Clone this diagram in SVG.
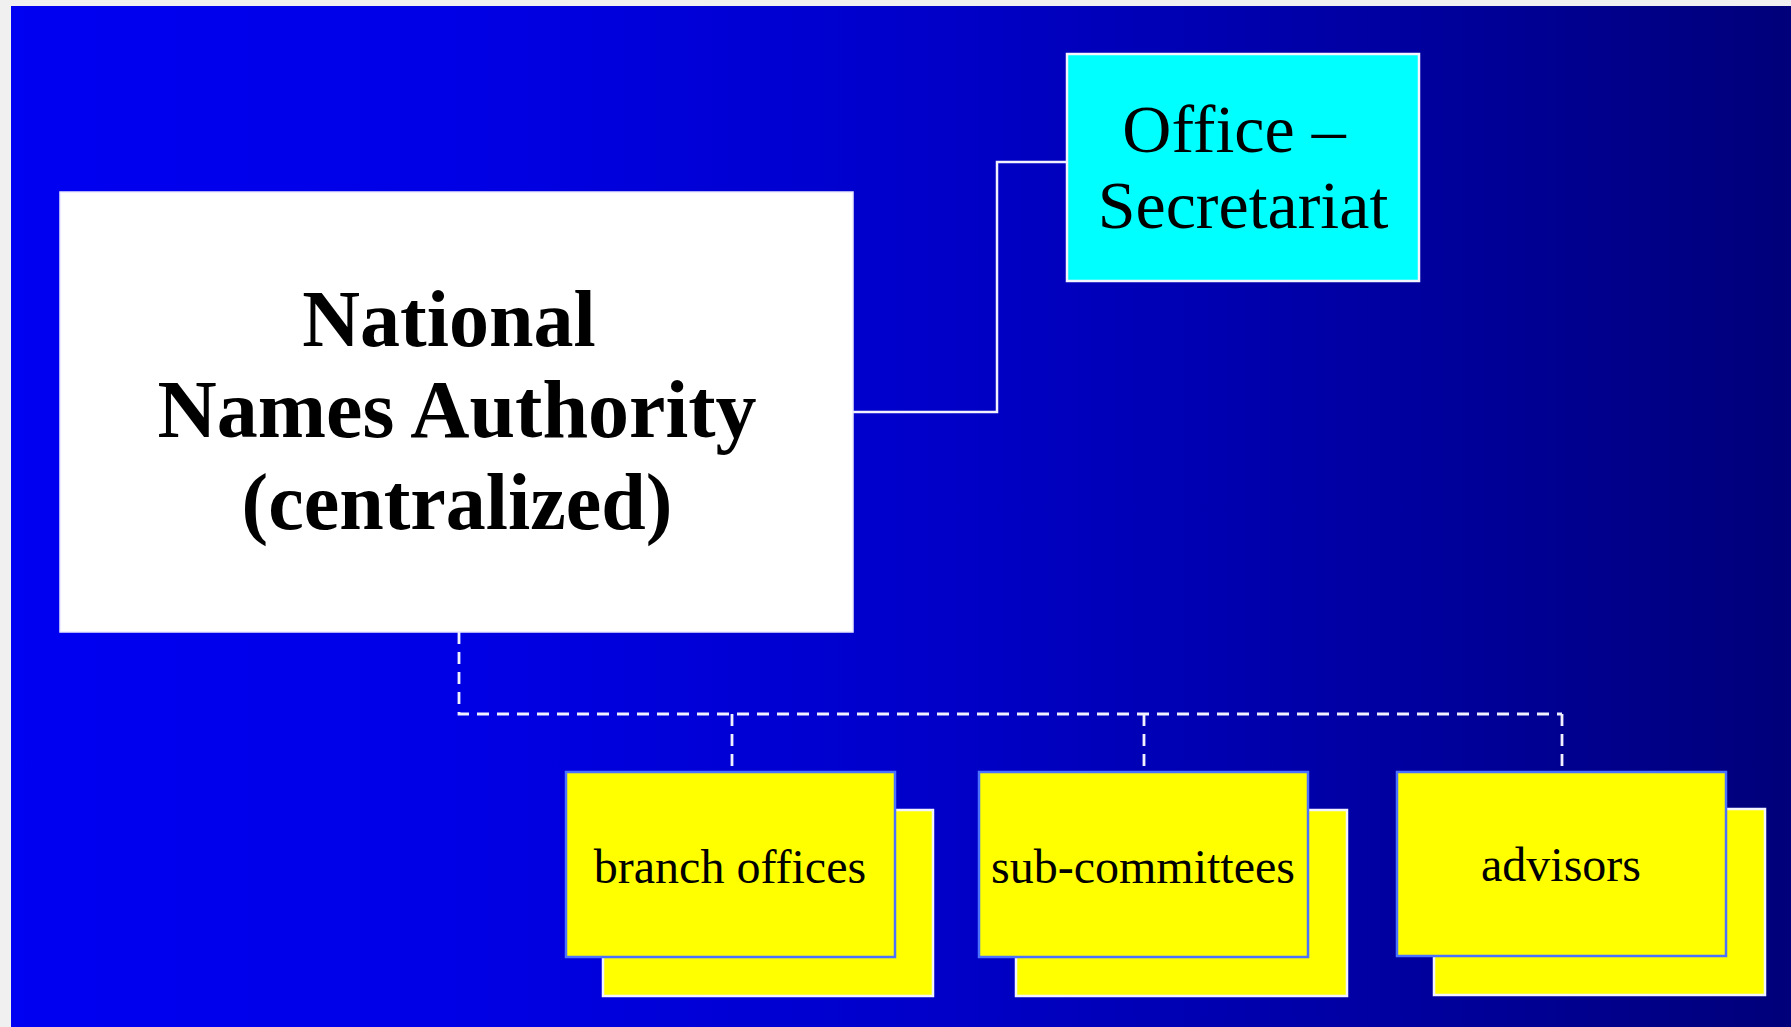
<svg xmlns="http://www.w3.org/2000/svg" width="1791" height="1027" viewBox="0 0 1791 1027">
  <defs>
    <linearGradient id="bg" gradientUnits="userSpaceOnUse" x1="0" y1="0" x2="1791" y2="0">
      <stop offset="0" stop-color="#0000F2"/>
      <stop offset="0.25" stop-color="#0000E6"/>
      <stop offset="0.53" stop-color="#0000C8"/>
      <stop offset="0.75" stop-color="#0000A5"/>
      <stop offset="1" stop-color="#00007A"/>
    </linearGradient>
    <style>
      .front { fill: #FFFF00; stroke: #4A72FF; stroke-width: 2.5; }
      .back { fill: #FFFF00; stroke: #F4F4FF; stroke-width: 2.5; }
      .lbl { font-family: "Liberation Serif", "Times New Roman", serif; fill: #000; text-anchor: middle; }
      .solid { fill: none; stroke: #F0F0FF; stroke-width: 2.5; }
      .dash { fill: none; stroke: #F0F0FF; stroke-width: 2.8; stroke-dasharray: 12 8; }
    </style>
  </defs>
  <rect x="0" y="0" width="1791" height="1027" fill="#F0F0F0"/>
  <rect x="11" y="6" width="1780" height="1021" fill="url(#bg)"/>

  <g id="connectors">
    <polyline class="solid" points="853,412 997,412 997,162 1067,162"/>
    <polyline class="dash" points="459,632 459,714 1562,714"/>
    <line class="dash" x1="732" y1="714" x2="732" y2="772"/>
    <line class="dash" x1="1144" y1="714" x2="1144" y2="772"/>
    <line class="dash" x1="1562" y1="714" x2="1562" y2="772"/>
  </g>

  <g id="national-names-authority">
    <rect x="60" y="192" width="793" height="440" fill="#FFFFFF" stroke="#E8E8FF" stroke-width="1.5"/>
    <text class="lbl" font-weight="bold" font-size="80" x="449" y="346">National</text>
    <text class="lbl" font-weight="bold" font-size="82" x="457" y="437">Names Authority</text>
    <text class="lbl" font-weight="bold" font-size="80" x="457" y="529">(centralized)</text>
  </g>

  <g id="office-secretariat">
    <rect x="1067" y="54" width="352" height="227" fill="#00FFFF" stroke="#F4F4FF" stroke-width="2.5"/>
    <text class="lbl" font-size="68" x="1234" y="152">Office –</text>
    <text class="lbl" font-size="68" x="1243" y="228">Secretariat</text>
  </g>

  <g id="branch-offices">
    <rect class="back" x="603" y="810" width="330" height="186"/>
    <rect class="front" x="566" y="772" width="329" height="185"/>
    <text class="lbl" font-size="48" x="730" y="883">branch offices</text>
  </g>

  <g id="sub-committees">
    <rect class="back" x="1016" y="810" width="331" height="186"/>
    <rect class="front" x="979" y="772" width="329" height="185"/>
    <text class="lbl" font-size="48" x="1143" y="883">sub-committees</text>
  </g>

  <g id="advisors">
    <rect class="back" x="1434" y="809" width="331" height="186"/>
    <rect class="front" x="1397" y="772" width="329" height="184"/>
    <text class="lbl" font-size="48" x="1561" y="881">advisors</text>
  </g>
</svg>
